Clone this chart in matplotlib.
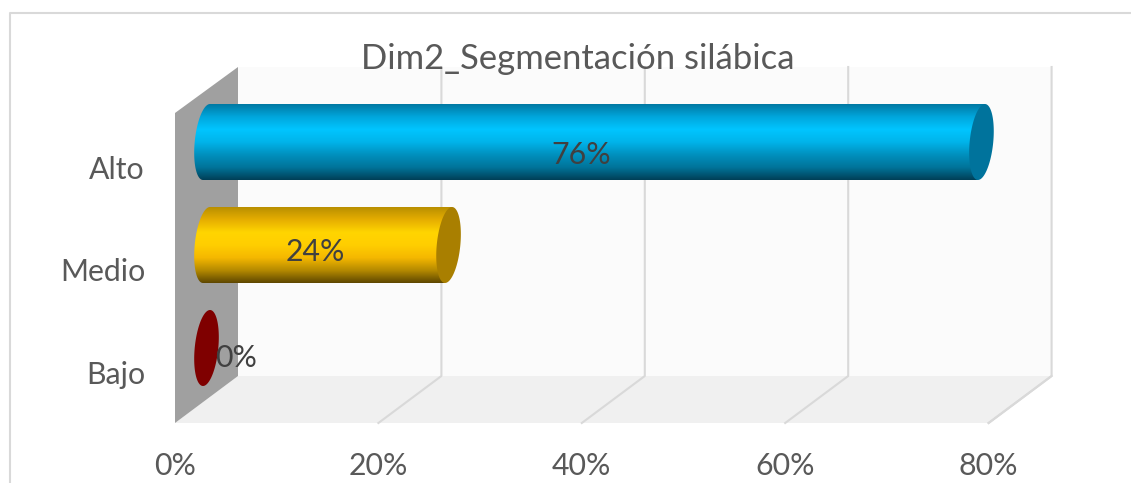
import numpy as np
import matplotlib
matplotlib.use('Agg')
import matplotlib.pyplot as plt
from matplotlib.colors import LinearSegmentedColormap
from matplotlib.patches import Polygon

plt.rcParams['font.family'] = ['Lato', 'DejaVu Sans']

title = 'Dim2_Segmentación silábica'
categories = ['Alto', 'Medio', 'Bajo']
values = [76.2, 23.8, 0.0]
value_labels = ['76%', '24%', '0%']
xticks = [0, 20, 40, 60, 80]
xtick_labels = ['0%', '20%', '40%', '60%', '80%']

W, H = 1131, 483
SCALE = 10.17  # pixels per 1 %
X0 = 175
DX = 63 / SCALE  # depth of the 3d box, in %
TEXT = '#595959'

# bar centre y, in picture pixels
bar_y = [142, 245, 348]
bar_h = 38
cap_a = 11.8 / SCALE
cap_b = 3.5 / SCALE
base = 31.5 / SCALE  # bars start in the middle of the box depth

gradients = [
    ['#0079A3', '#00A6DC', '#00C5FF', '#00B4EA', '#0090BE', '#00749A', '#003F57'],
    ['#B98F00', '#E6AE00', '#FFD500', '#FFCE00', '#F5B800', '#B58A00', '#5E4700'],
]
cap_colors = ['#00739C', '#A97F00', '#7F0000']

fig = plt.figure(figsize=(W / 100, H / 100), dpi=100)
ax = fig.add_axes([0, 0, 1, 1])
ax.set_xlim(-X0 / SCALE, (W - X0) / SCALE)
ax.set_ylim(H, 0)
ax.axis('off')

# chart border, the picture cuts off its right and bottom sides
ax.plot([-165 / SCALE, -165 / SCALE, (W - X0) / SCALE], [H, 12.5, 12.5], color='#D9D9D9', lw=1.5)

# 3d box
back_top, back_bottom, front_top, front_bottom = 67, 376, 113, 423
right = xticks[-1]
ax.add_patch(Polygon([(DX, back_top), (right + DX, back_top), (right + DX, back_bottom), (DX, back_bottom)],
                     fc='#FBFBFB', ec='none'))
ax.add_patch(Polygon([(0, front_bottom), (right, front_bottom), (right + DX, back_bottom), (DX, back_bottom)],
                     fc='#F0F0F0', ec='none'))
ax.add_patch(Polygon([(0, front_top), (DX, back_top), (DX, back_bottom), (0, front_bottom)],
                     fc='#A0A0A0', ec='none'))
for t in xticks[1:]:
    ax.plot([t + DX, t + DX, t], [back_top, back_bottom, front_bottom], color='#D9D9D9', lw=1.5)
ax.plot([right, right + DX], [front_bottom, back_bottom], color='#D9D9D9', lw=1.5)


def ring(cx, cy, t):
    return np.column_stack([cx + cap_a * np.cos(t) + cap_b * np.sin(t), cy - bar_h * np.sin(t)])


for i, v in enumerate(values):
    cy = bar_y[i]
    x1 = base + v
    if v > 0:
        left = ring(base, cy, np.linspace(np.pi / 2, 3 * np.pi / 2, 60))
        body = np.vstack([[(x1 + cap_b, cy - bar_h)], left, [(x1 - cap_b, cy + bar_h)]])
        cmap = LinearSegmentedColormap.from_list('bar%d' % i, gradients[i])
        im = ax.imshow(np.linspace(0, 1, 256).reshape(-1, 1), cmap=cmap, aspect='auto',
                       extent=(base - 2, x1 + 2, cy + bar_h, cy - bar_h), zorder=3)
        clip = Polygon(body, transform=ax.transData, fc='none', ec='none')
        ax.add_patch(clip)
        im.set_clip_path(clip)
    cap = Polygon(ring(x1, cy, np.linspace(0, 2 * np.pi, 120)), fc=cap_colors[i], ec='none', zorder=4)
    ax.add_patch(cap)

ax.set_xlim(-X0 / SCALE, (W - X0) / SCALE)
ax.set_ylim(H, 0)

# text
ax.text(402.5 / SCALE, 59, title, fontsize=24.9, color=TEXT, ha='center', va='center', zorder=6)
for name, cy in zip(categories, [170, 272, 375]):
    ax.text(-30 / SCALE, cy, name, fontsize=21.8, color=TEXT, ha='right', va='center')
for t, lab in zip(xticks, xtick_labels):
    ax.text(t, 466, lab, fontsize=21.8, color=TEXT, ha='center', va='center')
for lab, x, y in zip(value_labels, [39.9, 13.8, 6.0], [155, 252, 358]):
    ax.text(x, y, lab, fontsize=21.8, color='#404040', ha='center', va='center', zorder=6)

fig.savefig('out.png', dpi=100)
